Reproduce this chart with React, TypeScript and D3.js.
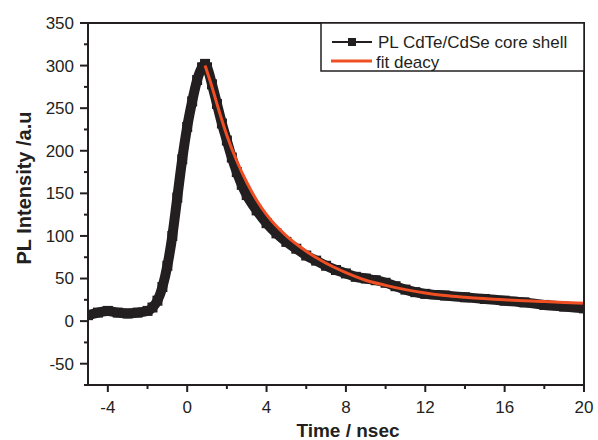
import React from "react";
import * as d3 from "d3";

const plTime = [-5, -4.5, -4, -3.5, -3, -2.5, -2, -1.75, -1.5, -1.25, -1, -0.75, -0.5, -0.25, 0, 0.25, 0.5, 0.75, 0.9, 1.0, 1.25, 1.5, 1.75, 2, 2.25, 2.5, 2.75, 3, 3.5, 4, 4.5, 5, 5.5, 6, 6.5, 7, 7.5, 8, 8.5, 9, 9.5, 10, 10.5, 11, 11.5, 12, 13, 14, 15, 16, 17, 18, 19, 20];
const plValue = [7, 10, 12, 10, 9, 10, 12, 16, 24, 40, 65, 100, 145, 190, 228, 258, 283, 298, 302, 298, 278, 255, 232, 212, 192, 175, 160, 148, 130, 115, 103, 93, 85, 77, 71, 65, 60, 56, 52, 50, 48, 45, 41, 37, 34, 32, 30, 28, 26, 24, 22, 19, 17, 15];

const fitTime = [0.9, 1.25, 1.5, 2, 2.5, 3, 3.5, 4, 5, 6, 7, 8, 9, 10, 11, 12, 13, 14, 16, 18, 20];
const fitValue = [300, 275, 255, 218, 188, 163, 142, 125, 100, 82, 68, 57, 48, 42, 37, 33, 30, 28, 25, 23, 21];

const xMajor = [-4, 0, 4, 8, 12, 16, 20];
const xMinor = [-2, 2, 6, 10, 14, 18];
const yMajor = [-50, 0, 50, 100, 150, 200, 250, 300, 350];
const yMinor = [-75, -25, 25, 75, 125, 175, 225, 275, 325];

const seriesNames = ["PL CdTe/CdSe core shell", "fit deacy"];

export default function App() {
  const W = 598, H = 440;
  const left = 88, right = 584, top = 23, bottom = 385;
  const x = d3.scaleLinear().domain([-5, 20]).range([left, right]);
  const y = d3.scaleLinear().domain([-75, 350]).range([bottom, top]);
  const black = "#231f20";
  const red = "#f04e23";
  const font = "Arial, 'Liberation Sans', Helvetica, sans-serif";

  const plData = plTime.map((t, i) => [t, plValue[i]] as [number, number]);
  const fitData = fitTime.map((t, i) => [t, fitValue[i]] as [number, number]);
  const line = d3.line<[number, number]>().x(d => x(d[0])).y(d => y(d[1])).curve(d3.curveMonotoneX);

  return (
    <div style={{ position: "fixed", left: 0, top: 0 }}>
      <svg width={W} height={H} style={{ display: "block", background: "#fff" }} fontFamily={font}>
        <defs>
          <clipPath id="plot">
            <rect x={left} y={top} width={right - left} height={bottom - top} />
          </clipPath>
        </defs>
        {/* data */}
        <g clipPath="url(#plot)">
          <path d={line(plData) || ""} fill="none" stroke={black} strokeWidth={10} strokeLinejoin="round" strokeLinecap="round" />
          {plData.map((d, i) => (
            <rect key={i} x={x(d[0]) - 5} y={y(d[1]) - 5} width={10} height={10} fill={black} />
          ))}
          <path d={line(fitData) || ""} fill="none" stroke={red} strokeWidth={3} />
        </g>
        {/* frame */}
        <rect x={left} y={top} width={right - left} height={bottom - top} fill="none" stroke={black} strokeWidth={2} />
        {/* x ticks */}
        {xMajor.map(t => (
          <g key={"xm" + t}>
            <line x1={x(t)} x2={x(t)} y1={bottom} y2={bottom + 7} stroke={black} strokeWidth={2} />
            <text x={x(t)} y={413} textAnchor="middle" fontSize={17} fill={black}>{t}</text>
          </g>
        ))}
        {xMinor.map(t => (
          <line key={"xn" + t} x1={x(t)} x2={x(t)} y1={bottom} y2={bottom + 4} stroke={black} strokeWidth={2} />
        ))}
        {/* y ticks */}
        {yMajor.map(v => (
          <g key={"ym" + v}>
            <line x1={left - 8} x2={left} y1={y(v)} y2={y(v)} stroke={black} strokeWidth={2} />
            <text x={74} y={y(v)} dy="0.35em" textAnchor="end" fontSize={17} fill={black}>{v}</text>
          </g>
        ))}
        {yMinor.map(v => (
          <line key={"yn" + v} x1={left - 4} x2={left} y1={y(v)} y2={y(v)} stroke={black} strokeWidth={2} />
        ))}
        {/* axis titles */}
        <text x={348} y={437} textAnchor="middle" fontSize={19} fontWeight="bold" fill={black}>Time / nsec</text>
        <text transform={`translate(31,188) rotate(-90)`} textAnchor="middle" fontSize={20} fontWeight="bold" fill={black}>PL Intensity /a.u</text>
        {/* legend */}
        <rect x={321} y={top} width={right - 321} height={48} fill="#fff" stroke={black} strokeWidth={1.5} />
        <line x1={332} x2={372} y1={42} y2={42} stroke={black} strokeWidth={2} />
        <rect x={348} y={38} width={8} height={8} fill={black} />
        <text x={378} y={47.5} fontSize={17} fill={black}>{seriesNames[0]}</text>
        <line x1={331} x2={372} y1={61} y2={61} stroke={red} strokeWidth={3} />
        <text x={376} y={67.5} fontSize={17} fill={black}>{seriesNames[1]}</text>
      </svg>
    </div>
  );
}
